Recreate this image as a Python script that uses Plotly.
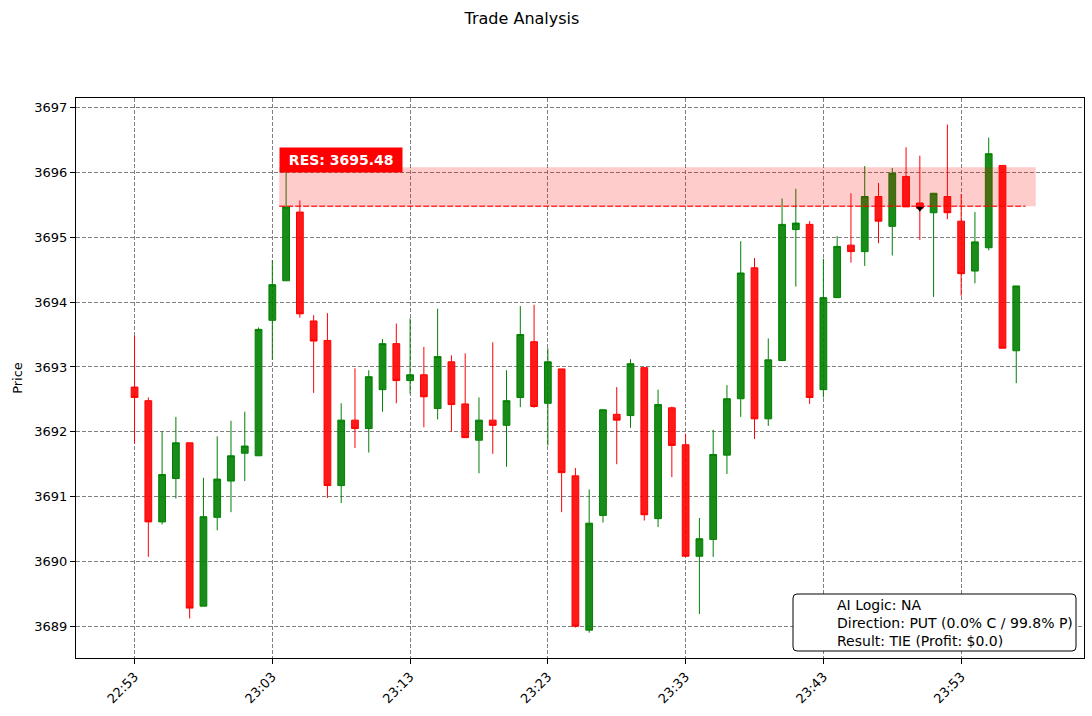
import plotly.graph_objects as go

day = "2024-01-01 "
times = [
    "22:53", "22:54", "22:55", "22:56", "22:57", "22:58", "22:59", "23:00", "23:01", "23:02",
    "23:03", "23:04", "23:05", "23:06", "23:07", "23:08", "23:09", "23:10", "23:11", "23:12",
    "23:13", "23:14", "23:15", "23:16", "23:17", "23:18", "23:19", "23:20", "23:21", "23:22",
    "23:23", "23:24", "23:25", "23:26", "23:27", "23:28", "23:29", "23:30", "23:31", "23:32",
    "23:33", "23:34", "23:35", "23:36", "23:37", "23:38", "23:39", "23:40", "23:41", "23:42",
    "23:43", "23:44", "23:45", "23:46", "23:47", "23:48", "23:49", "23:50", "23:51", "23:52",
    "23:53", "23:54", "23:55", "23:56", "23:57",
]
opens = [
    3692.69, 3692.48, 3690.61, 3691.28, 3691.83, 3689.31, 3690.68, 3691.24, 3691.67, 3691.63,
    3693.72, 3694.33, 3695.39, 3693.71, 3693.41, 3691.17, 3692.18, 3692.05, 3692.65, 3693.36,
    3692.79, 3692.88, 3692.36, 3693.08, 3692.43, 3691.87, 3692.18, 3692.10, 3692.53, 3693.39,
    3692.44, 3692.97, 3691.32, 3688.94, 3690.71, 3692.27, 3692.25, 3692.99, 3690.66, 3692.37,
    3691.80, 3690.08, 3690.34, 3691.64, 3692.51, 3694.53, 3692.20, 3693.10, 3695.12, 3695.20,
    3692.65, 3694.07, 3694.88, 3694.78, 3695.63, 3695.17, 3695.94, 3695.53, 3695.38, 3695.63,
    3695.25, 3694.48, 3694.84, 3696.11, 3693.25,
]
highs = [
    3693.48, 3692.53, 3692.01, 3692.23, 3691.83, 3691.29, 3691.93, 3692.17, 3692.31, 3693.61,
    3694.65, 3696.05, 3695.57, 3693.80, 3693.83, 3692.44, 3692.98, 3692.95, 3693.43, 3693.67,
    3693.75, 3693.31, 3693.90, 3693.18, 3693.21, 3692.53, 3693.38, 3692.95, 3693.94, 3693.96,
    3693.29, 3692.97, 3691.44, 3691.11, 3692.34, 3692.69, 3693.12, 3692.99, 3692.65, 3692.39,
    3691.97, 3690.67, 3692.03, 3692.72, 3694.94, 3694.68, 3693.44, 3695.60, 3695.75, 3695.25,
    3694.67, 3695.02, 3695.68, 3696.10, 3695.84, 3696.07, 3696.39, 3696.26, 3695.68, 3696.74,
    3695.67, 3695.39, 3696.54, 3696.11, 3694.25,
]
lows = [
    3691.82, 3690.07, 3690.57, 3690.97, 3689.12, 3689.31, 3690.48, 3690.76, 3691.24, 3691.63,
    3693.11, 3694.33, 3693.76, 3692.60, 3690.98, 3690.90, 3691.75, 3691.68, 3692.31, 3692.44,
    3692.59, 3692.07, 3692.19, 3692.00, 3691.91, 3691.36, 3691.66, 3691.46, 3692.38, 3692.37,
    3691.79, 3690.76, 3688.98, 3688.90, 3690.60, 3691.50, 3692.06, 3690.63, 3690.53, 3691.30,
    3690.08, 3689.19, 3690.07, 3691.35, 3692.23, 3691.89, 3692.09, 3693.10, 3694.24, 3692.43,
    3692.53, 3694.07, 3694.61, 3694.56, 3694.91, 3694.72, 3695.47, 3694.96, 3694.08, 3695.28,
    3694.10, 3694.29, 3694.80, 3693.29, 3692.75,
]
closes = [
    3692.53, 3690.61, 3691.34, 3691.83, 3689.28, 3690.69, 3691.27, 3691.63, 3691.78, 3693.58,
    3694.27, 3695.47, 3693.82, 3693.40, 3691.17, 3692.18, 3692.05, 3692.85, 3693.36, 3692.79,
    3692.88, 3692.54, 3693.16, 3692.42, 3691.91, 3692.18, 3692.10, 3692.48, 3693.50, 3692.39,
    3693.08, 3691.37, 3689.00, 3690.59, 3692.34, 3692.18, 3693.05, 3690.72, 3692.42, 3691.79,
    3690.08, 3690.35, 3691.65, 3692.51, 3694.45, 3692.20, 3693.11, 3695.20, 3695.22, 3692.53,
    3694.07, 3694.86, 3694.78, 3695.63, 3695.25, 3695.99, 3695.47, 3695.45, 3695.68, 3695.38,
    3694.44, 3694.93, 3696.29, 3693.29, 3694.25,
]

resistance = 3695.48
zone_height = 0.6
zone_start = "23:03:30"
zone_end = "23:58:25"
line_end = "23:57:40"
entry_time = "23:50"
entry_price = 3695.45

info_lines = [
    "AI Logic: NA",
    "Direction: PUT (0.0% C / 99.8% P)",
    "Result: TIE (Profit: $0.0)",
]

x = [day + t for t in times]
font = "DejaVu Sans, Arial, sans-serif"

W, H = 1092, 716
L, R, T, B = 76, 8, 98, 58
pw, ph = W - L - R, H - T - B

def px_x(p):
    return (p - L) / pw

def px_y(p):
    return (H - B - p) / ph

fig = go.Figure()
fig.add_trace(go.Candlestick(
    x=x, open=opens, high=highs, low=lows, close=closes,
    increasing=dict(line=dict(color="green", width=1), fillcolor="rgba(0,128,0,0.9)"),
    decreasing=dict(line=dict(color="red", width=1), fillcolor="rgba(255,0,0,0.9)"),
    whiskerwidth=0,
    showlegend=False,
    hoverinfo="x+y",
))

fig.add_trace(go.Scatter(
    x=[day + entry_time], y=[entry_price], mode="markers",
    marker=dict(symbol="triangle-down", size=7, color="black"),
    showlegend=False,
))

fig.add_shape(
    type="rect", xref="x", yref="y",
    x0=day + zone_start, x1=day + zone_end,
    y0=resistance, y1=resistance + zone_height,
    fillcolor="rgba(255,0,0,0.2)", line=dict(width=0), layer="above",
)
fig.add_shape(
    type="line", xref="x", yref="y",
    x0=day + zone_start, x1=day + line_end,
    y0=resistance, y1=resistance,
    line=dict(color="rgba(255,0,0,0.8)", width=1.5, dash="6px,2px"), layer="above",
)
fig.add_annotation(
    x=day + zone_start, y=resistance + 0.71, xref="x", yref="y",
    text="<b>&nbsp;RES: %.2f&nbsp;</b>" % resistance, showarrow=False,
    xanchor="left", yanchor="middle",
    font=dict(family=font, size=14, color="white"),
    bgcolor="red", borderpad=4,
)

# info box in the lower right, rounded like matplotlib's legend frame
bx0, bx1, by0, by1 = px_x(793), px_x(1076), px_y(651), px_y(594)
rx, ry = 4 / pw, 4 / ph
box_path = (
    f"M {bx0 + rx},{by0} L {bx1 - rx},{by0} Q {bx1},{by0} {bx1},{by0 + ry} "
    f"L {bx1},{by1 - ry} Q {bx1},{by1} {bx1 - rx},{by1} "
    f"L {bx0 + rx},{by1} Q {bx0},{by1} {bx0},{by1 - ry} "
    f"L {bx0},{by0 + ry} Q {bx0},{by0} {bx0 + rx},{by0} Z"
)
fig.add_shape(
    type="path", xref="paper", yref="paper", path=box_path,
    fillcolor="white", line=dict(color="black", width=1), layer="above",
)
fig.add_annotation(
    x=px_x(835), y=px_y(623), xref="paper", yref="paper",
    text="<br>".join(info_lines), showarrow=False, align="left",
    xanchor="left", yanchor="middle",
    font=dict(family=font, size=14, color="black"),
)

axis_common = dict(
    showline=True, linecolor="black", linewidth=1, mirror=True,
    ticks="outside", ticklen=5, tickcolor="black",
    showgrid=True, gridcolor="gray", griddash="4px,2px", gridwidth=1,
    zeroline=False,
    tickfont=dict(family=font, size=13, color="black"),
)

fig.update_layout(
    width=W, height=H,
    paper_bgcolor="white", plot_bgcolor="white",
    margin=dict(l=L, r=R, t=T, b=B),
    title=dict(
        text="Trade Analysis", xref="container", x=0.478, xanchor="center",
        yref="container", y=0.975, yanchor="middle",
        font=dict(family=font, size=16, color="black"),
    ),
    xaxis=dict(
        axis_common,
        type="date",
        range=["2024-01-01 22:48:45", "2024-01-02 00:01:55"],
        tick0=day + "22:53", dtick=600000, tickformat="%H:%M", tickangle=-45,
        rangeslider=dict(visible=False),
    ),
    yaxis=dict(
        axis_common,
        range=[3688.51, 3697.15], dtick=1,
        title=dict(text="Price", font=dict(family=font, size=13, color="black"), standoff=8),
    ),
    showlegend=False,
)

# drop the default page margin so the figure sits at the window's corner
fig.write_html(
    "out.html",
    config={"displayModeBar": False},
    post_script="document.body.style.margin='0px';",
)
